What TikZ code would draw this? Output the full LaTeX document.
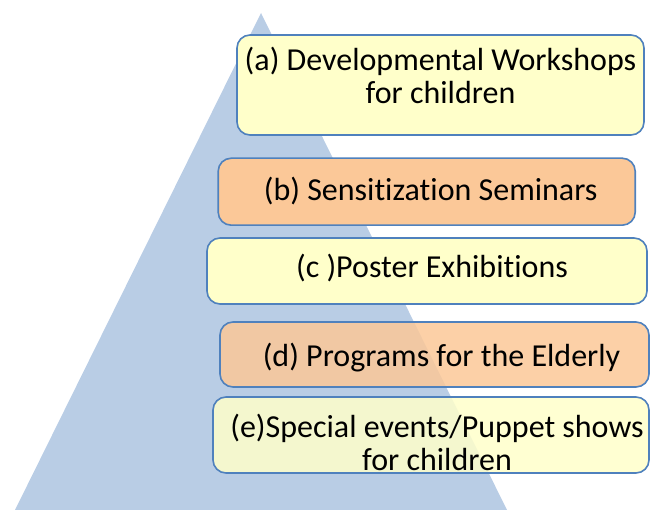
\documentclass[tikz,border=0pt]{standalone}
\usepackage{fontspec}
\setmainfont{Carlito}[Ligatures=NoCommon]
\definecolor{pyramid}{HTML}{B9CDE5}
\definecolor{edge}{HTML}{4F81BD}
\definecolor{lemon}{HTML}{FFFFCA}
\definecolor{peach}{HTML}{FBC898}
\tikzset{stage/.style={draw=edge, line width=1.6pt, rounded corners=13pt, align=center,
    inner sep=2pt, font=\fontsize{32}{33}\selectfont}}
\begin{document}
\begin{tikzpicture}[x=1pt, y=-1pt]
    \useasboundingbox (0,0) rectangle (650,510);
    % the pyramid behind the stages
    \fill[pyramid] (261,13) -- (507,510) -- (15,510) -- cycle;

    \node[stage, fill=lemon, minimum width=407pt, minimum height=100pt,
          text height=38pt, text depth=0pt] (wshop) at (440.5,85)
          {(a) Developmental Workshops\\for children};
    \node[stage, fill=peach, minimum width=417pt, minimum height=67pt,
          text height=29pt, text depth=11pt] (semin) at (426.7,191.7)
          {\hspace*{8pt}(b) Sensitization Seminars};
    \node[stage, fill=lemon, minimum width=440pt, minimum height=66pt,
          text height=27pt, text depth=13pt] (poster) at (427,271)
          {\hspace*{10pt}(c )Poster Exhibitions};
    \node[stage, fill=peach, fill opacity=0.85, text opacity=1, minimum width=429pt, minimum height=65pt,
          text height=32pt, text depth=8pt] (elder) at (434.5,354.5)
          {\hspace*{14pt}(d) Programs for the Elderly};
    \node[stage, fill=lemon, fill opacity=0.85, text opacity=1, minimum width=436pt, minimum height=76pt,
          text height=70pt, text depth=0pt] (puppet) at (431,435)
          {\hspace*{12pt}(e)Special events/Puppet shows\\\hspace*{12pt}for children};
\end{tikzpicture}
\end{document}
